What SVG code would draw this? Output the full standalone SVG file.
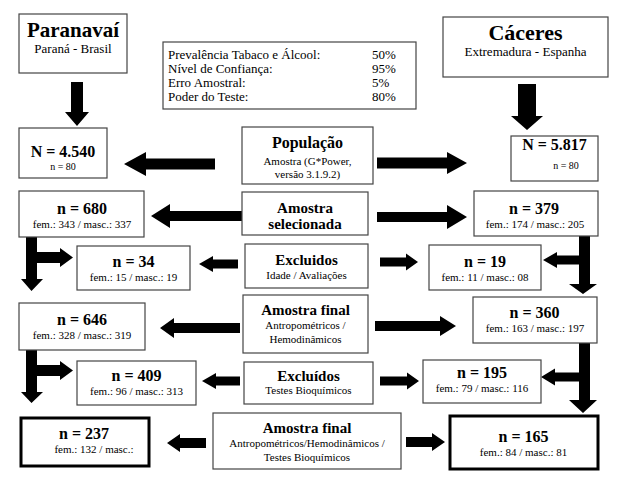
<svg xmlns="http://www.w3.org/2000/svg" width="621" height="485" viewBox="0 0 621 485" font-family="'Liberation Serif', 'Times New Roman', 'DejaVu Serif', serif">
<style>
.box{fill:#fff;stroke:#444;stroke-width:1.2}
.thick{fill:#fff;stroke:#000;stroke-width:3}
text{font-family:'Liberation Serif','Times New Roman','DejaVu Serif',serif;fill:#000}
.c{text-anchor:middle}
.t1{font-size:20px;font-weight:bold}
.t2{font-size:16px;font-weight:bold}
.t3{font-size:15px;font-weight:bold}
.s13{font-size:13px}
.s11{font-size:11px}
.s10{font-size:10px}
.arr{fill:#000}
</style>
<rect width="621" height="485" fill="#fff"/>
<g id="connectors" class="arr">
<polygon points="71,82 83,82 83,112 89,112 77,126 65,112 71,112"/>
<polygon points="518,84 536,84 536,116 543,116 527,130 511,116 518,116"/>
<polygon points="215,158.5 146,158.5 146,152 124,164 146,176 146,169.5 215,169.5"/>
<polygon points="377,157.5 447,157.5 447,152 467,163 447,174 447,168.5 377,168.5"/>
<polygon points="242,211 170,211 170,204 151,216 170,228 170,221 242,221"/>
<polygon points="377,212 447,212 447,205 467,217 447,229 447,222 377,222"/>
<polygon points="238,259.5 213,259.5 213,256 199,264 213,272 213,268.5 238,268.5"/>
<polygon points="380,257.5 406,257.5 406,253.5 418,262 406,270.5 406,266.5 380,266.5"/>
<polygon points="240,323 174,323 174,318 160,328 174,338 174,333 240,333"/>
<polygon points="375,321 440,321 440,316 456,326 440,336 440,331 375,331"/>
<polygon points="240,376.5 216,376.5 216,373 202,381 216,389 216,385.5 240,385.5"/>
<polygon points="380,376.5 407,376.5 407,372.5 419,381 407,389.5 407,385.5 380,385.5"/>
<polygon points="206,438 180,438 180,434 167,443 180,452 180,448 206,448"/>
<polygon points="406,437 432,437 432,433 445,442 432,451 432,447 406,447"/>
<polygon points="26,237 37,237 37,252 60,252 60,248 73,257.5 60,267 60,263 37,263 37,279 43,279 31.5,291 21,279 26,279"/>
<polygon points="26,350 37,350 37,365 60,365 60,361 73,370.5 60,380 60,376 37,376 37,392 43,392 31.5,403 21,392 26,392"/>
<polygon points="579,236 590,236 590,284 597,284 583,294 569,284 579,284 579,264.5 557,264.5 557,268 543,260 557,252 557,255.5 579,255.5"/>
<polygon points="579,343 590,343 590,400 597,400 583,413 569,400 579,400 579,381.5 555,381.5 555,385.5 541,377 555,368.5 555,372.5 579,372.5"/>
</g>
<g id="paranavai">
<rect class="box" x="19" y="14" width="108" height="59"/>
<text class="c t1" x="73" y="37" style="font-size:21px">Paranavaí</text>
<text class="c s13" x="73" y="53">Paraná - Brasil</text>
</g>
<g id="caceres">
<rect class="box" x="443" y="17" width="165" height="60"/>
<text class="c t1" x="525.5" y="40" style="font-size:22px">Cáceres</text>
<text class="c s13" x="525.5" y="56">Extremadura - Espanha</text>
</g>
<g id="info">
<rect class="box" x="163" y="42" width="253" height="67"/>
<text class="s13" x="168" y="59">Prevalência Tabaco e Álcool:</text>
<text class="s13" x="168" y="73">Nível de Confiança:</text>
<text class="s13" x="168" y="87">Erro Amostral:</text>
<text class="s13" x="168" y="101">Poder do Teste:</text>
<text class="s13" x="372" y="59">50%</text>
<text class="s13" x="372" y="73">95%</text>
<text class="s13" x="372" y="87">5%</text>
<text class="s13" x="372" y="101">80%</text>
</g>
<g id="n4540">
<rect class="box" x="19" y="128" width="88" height="50"/>
<text class="c t2" x="63" y="157">N = 4.540</text>
<text class="c s10" x="63" y="170">n = 80</text>
</g>
<g id="populacao">
<rect class="box" x="242" y="127" width="131" height="57"/>
<text class="c t2" x="307.5" y="148">População</text>
<text class="c s11" x="307.5" y="165">Amostra (G*Power,</text>
<text class="c s11" x="307.5" y="178">versão 3.1.9.2)</text>
</g>
<g id="n5817">
<rect class="box" x="511" y="136" width="87" height="45"/>
<text class="c t2" x="554.5" y="150">N = 5.817</text>
<text class="c s10" x="566" y="169">n = 80</text>
</g>
<g id="n680">
<rect class="box" x="19" y="191" width="125" height="46"/>
<text class="c t2" x="82" y="214">n = 680</text>
<text class="c s11" x="82" y="228">fem.: 343 / masc.: 337</text>
</g>
<g id="amostra-selecionada">
<rect class="box" x="242" y="192" width="126" height="43"/>
<text class="c t3" x="305" y="213">Amostra</text>
<text class="c t3" x="305" y="229">selecionada</text>
</g>
<g id="n379">
<rect class="box" x="474" y="191" width="124" height="45"/>
<text class="c t2" x="534" y="214">n = 379</text>
<text class="c s11" x="535" y="228">fem.: 174 / masc.: 205</text>
</g>
<g id="n34">
<rect class="box" x="77" y="246" width="113" height="44"/>
<text class="c t2" x="133.5" y="267">n = 34</text>
<text class="c s11" x="133.5" y="281">fem.: 15 / masc.: 19</text>
</g>
<g id="excluidos1">
<rect class="box" x="245" y="244" width="123" height="44"/>
<text class="c t3" x="306.5" y="265">Excluidos</text>
<text class="c s11" x="306.5" y="279">Idade / Avaliações</text>
</g>
<g id="n19">
<rect class="box" x="429" y="245" width="112" height="45"/>
<text class="c t2" x="485" y="267">n = 19</text>
<text class="c s11" x="485" y="281">fem.: 11 / masc.: 08</text>
</g>
<g id="n646">
<rect class="box" x="19" y="303" width="126" height="47"/>
<text class="c t2" x="82" y="325">n = 646</text>
<text class="c s11" x="82" y="339">fem.: 328 / masc.: 319</text>
</g>
<g id="amostra-final1">
<rect class="box" x="243" y="295" width="125" height="58"/>
<text class="c t3" x="305.5" y="315">Amostra final</text>
<text class="c s11" x="305.5" y="329">Antropométricos /</text>
<text class="c s11" x="305.5" y="343">Hemodinâmicos</text>
</g>
<g id="n360">
<rect class="box" x="473" y="297" width="124" height="46"/>
<text class="c t2" x="534.5" y="318">n = 360</text>
<text class="c s11" x="535" y="332">fem.: 163 / masc.: 197</text>
</g>
<g id="n409">
<rect class="box" x="77" y="361" width="119" height="44"/>
<text class="c t2" x="136.5" y="381">n = 409</text>
<text class="c s11" x="136.5" y="395">fem.: 96 / masc.: 313</text>
</g>
<g id="excluidos2">
<rect class="box" x="244" y="362" width="129" height="42"/>
<text class="c t3" x="308.5" y="381">Excluídos</text>
<text class="c s11" x="308.5" y="394">Testes Bioquímicos</text>
</g>
<g id="n195">
<rect class="box" x="423" y="360" width="118" height="43"/>
<text class="c t2" x="482" y="378">n = 195</text>
<text class="c s11" x="482" y="392">fem.: 79 / masc.: 116</text>
</g>
<g id="n237">
<rect class="thick" x="21" y="418" width="128" height="48"/>
<text class="c t2" x="84" y="439">n = 237</text>
<text class="c s11" x="94" y="453">fem.: 132 / masc.:</text>
</g>
<g id="amostra-final2">
<rect class="box" x="213" y="413" width="188" height="56"/>
<text class="c t3" x="307" y="433">Amostra final</text>
<text class="c s11" x="307" y="447">Antropométricos/Hemodinâmicos /</text>
<text class="c s11" x="307" y="461">Testes Bioquímicos</text>
</g>
<g id="n165">
<rect class="thick" x="450" y="416" width="148" height="53"/>
<text class="c t2" x="523.5" y="442">n = 165</text>
<text class="c s11" x="523.5" y="456">fem.: 84 / masc.: 81</text>
</g>
</svg>
